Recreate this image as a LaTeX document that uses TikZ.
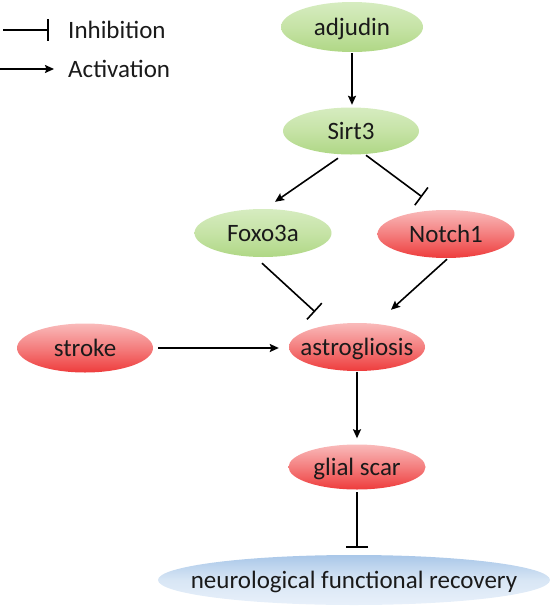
\documentclass[tikz,border=0pt]{standalone}
\usepackage{fontspec}
\setmainfont{Carlito}
\usetikzlibrary{shapes.geometric,arrows.meta,calc}
\definecolor{gtop}{HTML}{D6ECC0}
\definecolor{gmid}{HTML}{C6E3A6}
\definecolor{gbot}{HTML}{AFD785}
\definecolor{rtop}{HTML}{F9BABA}
\definecolor{rmid}{HTML}{F47E7E}
\definecolor{rbot}{HTML}{EE3C3C}
\definecolor{btop}{HTML}{A9C7E8}
\definecolor{bmid}{HTML}{D8E6F5}
\definecolor{bbot}{HTML}{E8F0FA}
\definecolor{txt}{HTML}{1A1A1A}
\newcommand\ctxt[1]{\makebox[0pt]{\raisebox{-0.33em}[0pt][0pt]{#1}}}
\tikzset{
  base/.style={ellipse, inner sep=0pt, draw=none, text=txt,
    font=\fontsize{25}{30}\selectfont, minimum width=137pt, minimum height=48pt},
  gnode/.style={base, top color=gtop, bottom color=gbot, middle color=gmid},
  rnode/.style={base, top color=rtop, bottom color=rbot, middle color=rmid},
  bnode/.style={base, top color=btop, bottom color=bbot, middle color=bmid},
  act/.style={line width=1.6pt, -{Stealth[length=9pt,width=8pt,inset=1.5pt]}},
  inh/.style={line width=1.6pt, -{Bar[width=22pt,line width=1.6pt]}},
  legtxt/.style={anchor=west, inner sep=0pt, text=txt, font=\fontsize{25}{30}\selectfont}
}
\begin{document}
\begin{tikzpicture}[x=1pt,y=-1pt]
\useasboundingbox (0,0) rectangle (551,608);
% nodes
\node[gnode, minimum width=142pt, minimum height=50pt] (adj) at (352,27) {\ctxt{adjudin}};
\node[gnode, minimum width=136pt, minimum height=47pt] (sirt) at (351,131) {\ctxt{Sirt3}};
\node[gnode] (foxo) at (263,233) {\ctxt{Foxo3a}};
\node[rnode] (notch) at (446,234) {\ctxt{Notch1}};
\node[rnode, minimum width=136pt, minimum height=49pt] (stroke) at (85,348) {\ctxt{stroke}};
\node[rnode, minimum width=136pt] (astro) at (357,347) {\ctxt{astrogliosis}};
\node[rnode, minimum height=45pt] (glial) at (357,467) {\ctxt{glial scar}};
\node[bnode, minimum width=392pt, minimum height=50pt] (recov) at (354,580) {\ctxt{neurological functional recovery}};
% legend
\coordinate (li1) at (3,30);
\coordinate (li2) at (49,30);
\coordinate (la1) at (0,69);
\coordinate (la2) at (54,69);
\draw[inh] (li1) -- (li2);
\draw[act] (la1) -- (la2);
\node[legtxt] (linh) at (68,30) {\raisebox{-0.33em}[0pt][0pt]{Inhibition}};
\node[legtxt] (lact) at (68,69) {\raisebox{-0.33em}[0pt][0pt]{Activation}};
% connectors
\draw[act, shorten <=1pt, shorten >=2.5pt] (adj.south) -- (adj.south |- sirt.north);
\draw[act] ($(sirt.south)+(-13,3.5)$) -- ($(foxo.north)+(12,-7)$);
\draw[inh] ($(sirt.south)+(15,0.5)$) -- ($(notch.north)+(-24,-13)$);
\draw[inh] ($(foxo.south)+(-1,6)$) -- ($(astro.north)+(-42,-11)$);
\draw[act] ($(notch.south)+(1,1)$) -- ($(astro.north)+(34,-13)$);
\draw[act, shorten <=5pt, shorten >=10pt] (stroke.east) -- (stroke.east -| astro.west);
\draw[act, shorten <=1pt, shorten >=6pt] (astro.south) -- (glial.north);
\draw[inh, shorten <=2.5pt, shorten >=7pt] (glial.south) -- (glial.south |- recov.north);
\end{tikzpicture}
\end{document}
